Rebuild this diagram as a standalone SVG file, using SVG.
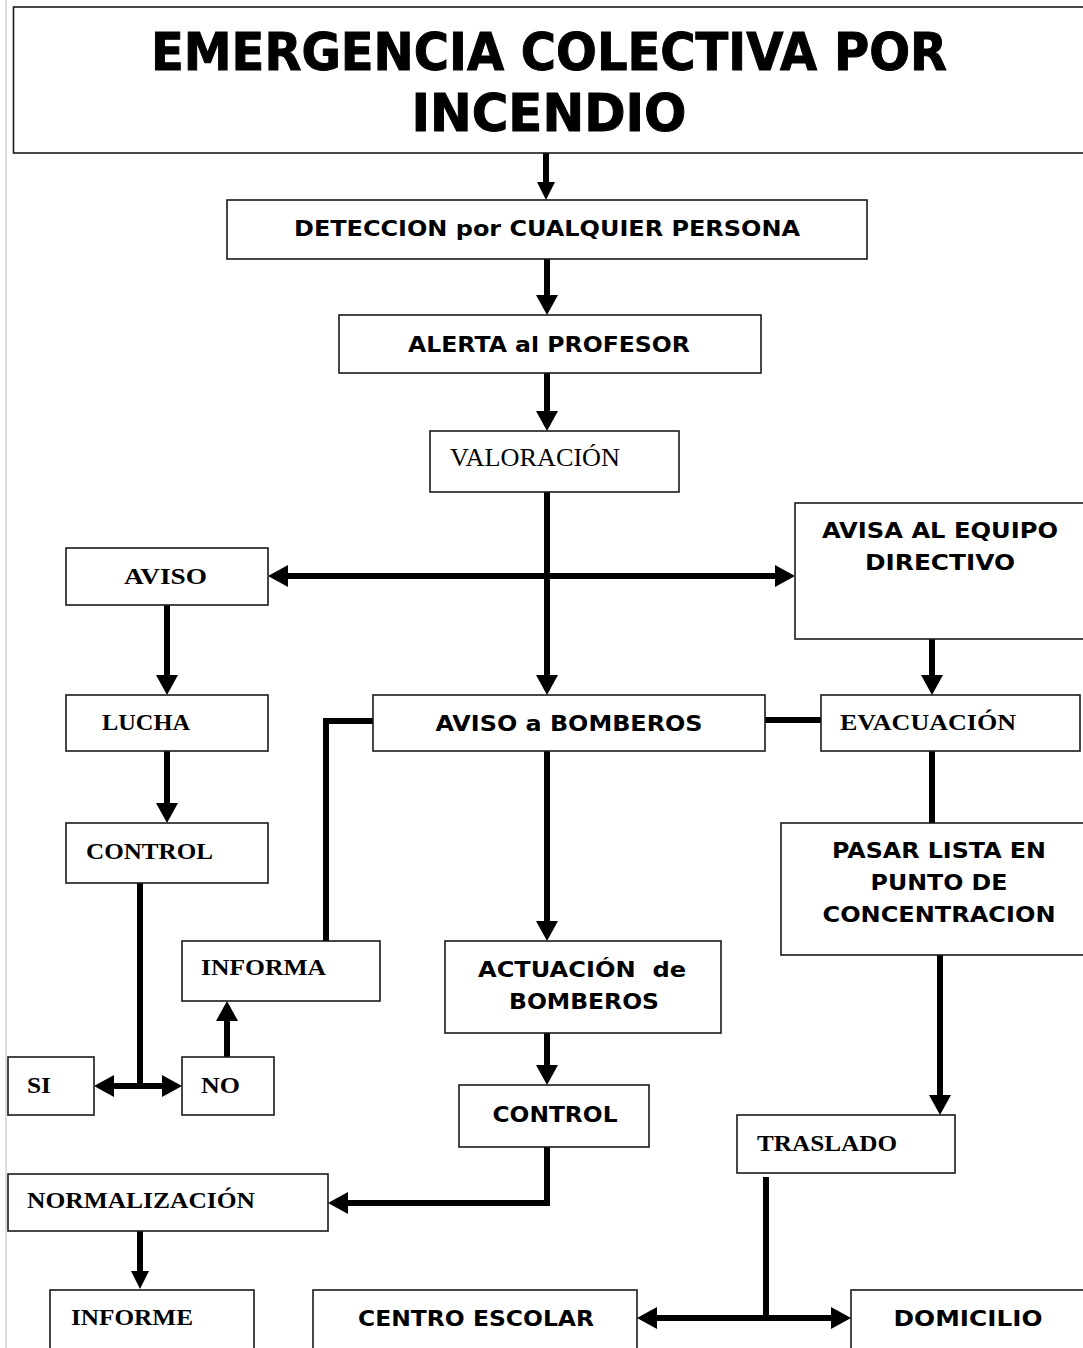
<svg xmlns="http://www.w3.org/2000/svg" width="1083" height="1348" viewBox="0 0 1083 1348">
<style>
.box{fill:#fff;stroke:#1a1a1a;stroke-width:1.6}
.v{font-family:"DejaVu Sans",Verdana,sans-serif;font-weight:bold;fill:#000}
.s{font-family:"Liberation Serif","Times New Roman",serif;font-weight:bold;fill:#000}
.sr{font-family:"Liberation Serif","Times New Roman",serif;fill:#000}
.t{stroke:#000;stroke-width:1}
.c{fill:none;stroke:#000;stroke-width:6}
</style>
<defs>
<marker id="ah" markerUnits="userSpaceOnUse" markerWidth="20" markerHeight="22" viewBox="0 0 20 22" refX="10" refY="11" orient="auto-start-reverse">
<path d="M0,0 L20,11 L0,22 z" fill="#000"/>
</marker>
<marker id="ahs" markerUnits="userSpaceOnUse" markerWidth="18" markerHeight="18" viewBox="0 0 18 18" refX="9" refY="9" orient="auto-start-reverse">
<path d="M0,0 L18,9 L0,18 z" fill="#000"/>
</marker>
</defs>
<rect width="1083" height="1348" fill="#fff"/>
<line x1="6" y1="0" x2="6" y2="1348" stroke="#d0d0d0" stroke-width="1.5"/>

<g id="connectors">
<line class="c" stroke-width="4" x1="546" y1="153" x2="546" y2="191" marker-end="url(#ahs)"/>
<line class="c" x1="547" y1="259" x2="547" y2="305" marker-end="url(#ah)"/>
<line class="c" x1="547" y1="373" x2="547" y2="421" marker-end="url(#ah)"/>
<line class="c" x1="547" y1="492" x2="547" y2="685" marker-end="url(#ah)"/>
<line class="c" x1="278" y1="576" x2="785" y2="576" marker-start="url(#ah)" marker-end="url(#ah)"/>
<line class="c" x1="167" y1="605" x2="167" y2="685" marker-end="url(#ah)"/>
<line class="c" x1="167" y1="751" x2="167" y2="813" marker-end="url(#ah)"/>
<polyline class="c" points="140,883 140,1086"/>
<line class="c" x1="104" y1="1086" x2="172" y2="1086" marker-start="url(#ah)" marker-end="url(#ah)"/>
<line class="c" x1="227" y1="1057" x2="227" y2="1011" marker-end="url(#ah)"/>
<polyline class="c" points="326,941 326,721 373,721"/>
<line class="c" stroke-width="7" x1="765" y1="720" x2="823" y2="720"/>
<line class="c" x1="932" y1="639" x2="932" y2="685" marker-end="url(#ah)"/>
<line class="c" x1="932" y1="751" x2="932" y2="823"/>
<line class="c" x1="547" y1="751" x2="547" y2="931" marker-end="url(#ah)"/>
<line class="c" x1="547" y1="1033" x2="547" y2="1075" marker-end="url(#ah)"/>
<polyline class="c" points="547,1147 547,1203 338,1203" marker-end="url(#ah)"/>
<line class="c" stroke-width="4" x1="140" y1="1231" x2="140" y2="1280" marker-end="url(#ahs)"/>
<line class="c" x1="940" y1="955" x2="940" y2="1105" marker-end="url(#ah)"/>
<line class="c" x1="766" y1="1177" x2="766" y2="1318"/>
<line class="c" x1="647" y1="1318" x2="841" y2="1318" marker-start="url(#ah)" marker-end="url(#ah)"/>
</g>

<g id="titulo">
<rect class="box" stroke-width="2" x="13.5" y="7" width="1080" height="146"/>
<text class="v t" x="549" y="70" font-size="52" text-anchor="middle" textLength="796" lengthAdjust="spacingAndGlyphs">EMERGENCIA COLECTIVA POR</text>
<text class="v t" x="549" y="131" font-size="52" text-anchor="middle" textLength="275" lengthAdjust="spacingAndGlyphs">INCENDIO</text>
</g>
<g id="deteccion">
<rect class="box" x="227" y="200" width="640" height="59"/>
<text class="v" x="547" y="236" font-size="22" text-anchor="middle" textLength="506" lengthAdjust="spacingAndGlyphs">DETECCION por CUALQUIER PERSONA</text>
</g>
<g id="alerta">
<rect class="box" x="339" y="315" width="422" height="58"/>
<text class="v" x="549" y="352" font-size="22" text-anchor="middle" textLength="282" lengthAdjust="spacingAndGlyphs">ALERTA al PROFESOR</text>
</g>
<g id="valoracion">
<rect class="box" x="430" y="431" width="249" height="61"/>
<text class="sr" x="450" y="466" font-size="25" textLength="170" lengthAdjust="spacingAndGlyphs">VALORACIÓN</text>
</g>
<g id="aviso">
<rect class="box" x="66" y="548" width="202" height="57"/>
<text class="s" x="124" y="584" font-size="24" textLength="83" lengthAdjust="spacingAndGlyphs">AVISO</text>
</g>
<g id="avisa-equipo">
<rect class="box" x="795" y="503" width="300" height="136"/>
<text class="v" x="940" y="538" font-size="22" text-anchor="middle" textLength="236" lengthAdjust="spacingAndGlyphs">AVISA AL EQUIPO</text>
<text class="v" x="940" y="570" font-size="22" text-anchor="middle" textLength="150" lengthAdjust="spacingAndGlyphs">DIRECTIVO</text>
</g>
<g id="lucha">
<rect class="box" x="66" y="695" width="202" height="56"/>
<text class="s" x="102" y="730" font-size="24" textLength="88" lengthAdjust="spacingAndGlyphs">LUCHA</text>
</g>
<g id="aviso-bomberos">
<rect class="box" x="373" y="695" width="392" height="56"/>
<text class="v" x="569" y="731" font-size="22" text-anchor="middle" textLength="267" lengthAdjust="spacingAndGlyphs">AVISO a BOMBEROS</text>
</g>
<g id="evacuacion">
<rect class="box" x="821" y="695" width="259" height="56"/>
<text class="s" x="840" y="730" font-size="24" textLength="176" lengthAdjust="spacingAndGlyphs">EVACUACIÓN</text>
</g>
<g id="control1">
<rect class="box" x="66" y="823" width="202" height="60"/>
<text class="s" x="86" y="859" font-size="24" textLength="127" lengthAdjust="spacingAndGlyphs">CONTROL</text>
</g>
<g id="pasar-lista">
<rect class="box" x="781" y="823" width="310" height="132"/>
<text class="v" x="939" y="858" font-size="22" text-anchor="middle" textLength="214" lengthAdjust="spacingAndGlyphs">PASAR LISTA EN</text>
<text class="v" x="939" y="890" font-size="22" text-anchor="middle" textLength="137" lengthAdjust="spacingAndGlyphs">PUNTO DE</text>
<text class="v" x="939" y="922" font-size="22" text-anchor="middle" textLength="233" lengthAdjust="spacingAndGlyphs">CONCENTRACION</text>
</g>
<g id="informa">
<rect class="box" x="182" y="941" width="198" height="60"/>
<text class="s" x="201" y="975" font-size="24" textLength="125" lengthAdjust="spacingAndGlyphs">INFORMA</text>
</g>
<g id="actuacion">
<rect class="box" x="445" y="941" width="276" height="92"/>
<text class="v" x="582" y="977" font-size="22" text-anchor="middle" textLength="208" lengthAdjust="spacingAndGlyphs" xml:space="preserve">ACTUACIÓN  de</text>
<text class="v" x="584" y="1009" font-size="22" text-anchor="middle" textLength="150" lengthAdjust="spacingAndGlyphs">BOMBEROS</text>
</g>
<g id="si">
<rect class="box" x="8" y="1057" width="86" height="58"/>
<text class="s" x="27" y="1093" font-size="24" textLength="24" lengthAdjust="spacingAndGlyphs">SI</text>
</g>
<g id="no">
<rect class="box" x="182" y="1057" width="92" height="58"/>
<text class="s" x="201" y="1093" font-size="24" textLength="39" lengthAdjust="spacingAndGlyphs">NO</text>
</g>
<g id="control2">
<rect class="box" x="459" y="1085" width="190" height="62"/>
<text class="v" x="555" y="1122" font-size="22" text-anchor="middle" textLength="125" lengthAdjust="spacingAndGlyphs">CONTROL</text>
</g>
<g id="traslado">
<rect class="box" x="737" y="1115" width="218" height="58"/>
<text class="s" x="757" y="1151" font-size="24" textLength="140" lengthAdjust="spacingAndGlyphs">TRASLADO</text>
</g>
<g id="normalizacion">
<rect class="box" x="8" y="1174" width="320" height="57"/>
<text class="s" x="27" y="1208" font-size="24" textLength="228" lengthAdjust="spacingAndGlyphs">NORMALIZACIÓN</text>
</g>
<g id="informe">
<rect class="box" x="50" y="1290" width="204" height="70"/>
<text class="s" x="71" y="1325" font-size="24" textLength="122" lengthAdjust="spacingAndGlyphs">INFORME</text>
</g>
<g id="centro-escolar">
<rect class="box" x="313" y="1290" width="324" height="70"/>
<text class="v" x="476" y="1326" font-size="22" text-anchor="middle" textLength="236" lengthAdjust="spacingAndGlyphs">CENTRO ESCOLAR</text>
</g>
<g id="domicilio">
<rect class="box" x="851" y="1290" width="240" height="70"/>
<text class="v" x="968" y="1326" font-size="22" text-anchor="middle" textLength="149" lengthAdjust="spacingAndGlyphs">DOMICILIO</text>
</g>
</svg>
